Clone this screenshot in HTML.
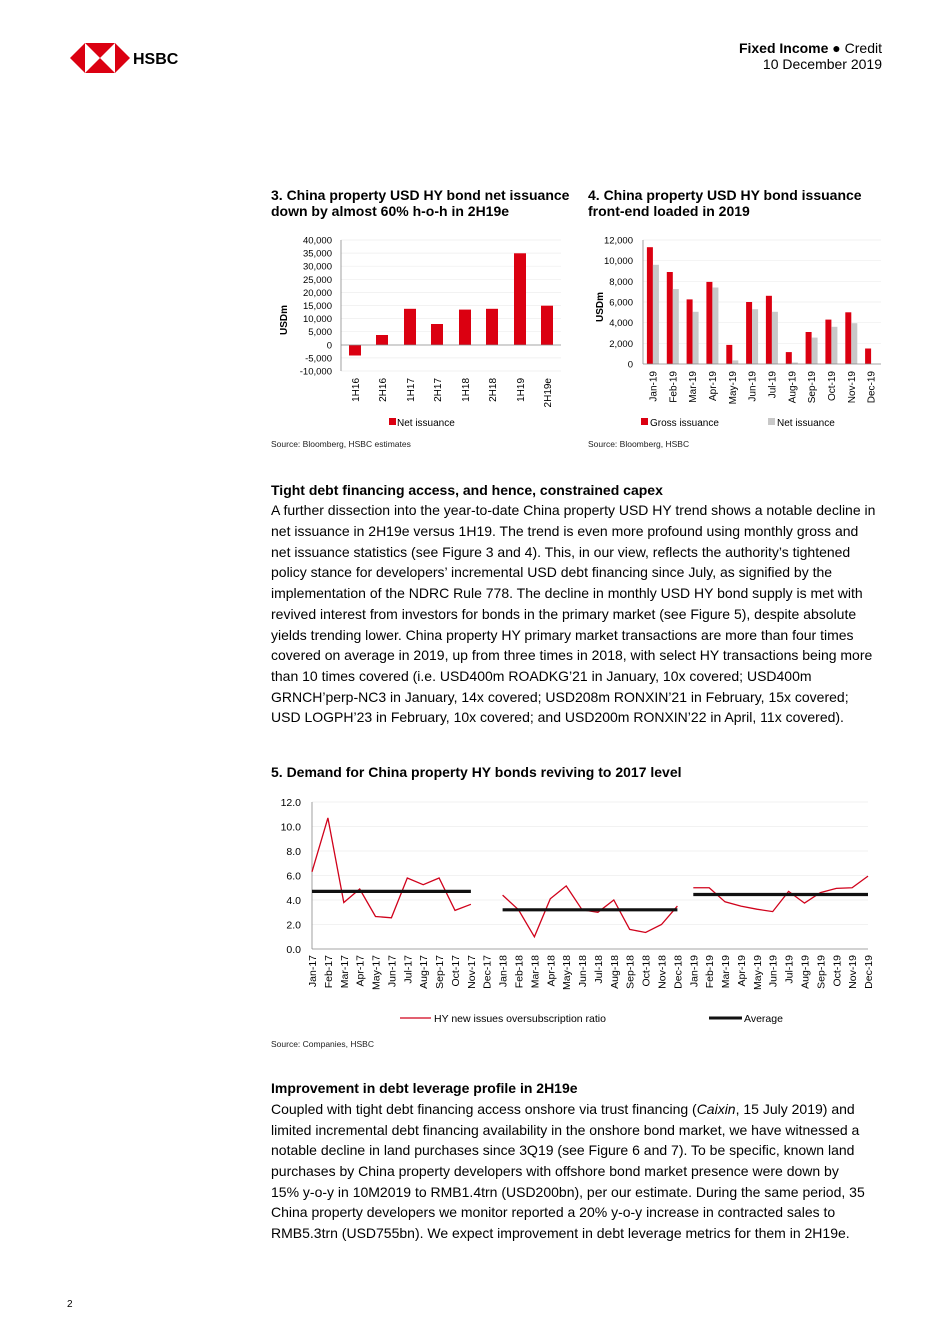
<!DOCTYPE html>
<html><head><meta charset="utf-8"><style>
html,body{margin:0;padding:0;background:#fff}
svg{display:block;font-family:"Liberation Sans",Arial,sans-serif}
</style></head><body>
<svg width="950" height="1344" viewBox="0 0 950 1344" xmlns="http://www.w3.org/2000/svg">
<!-- logo -->
<polygon points="70,58 85,43 85,73" fill="#db0011"/>
<polygon points="130,58 115,43 115,73" fill="#db0011"/>
<polygon points="85,43 115,43 100,58" fill="#db0011"/>
<polygon points="85,73 115,73 100,58" fill="#db0011"/>
<text x="133" y="64" font-size="16" font-weight="bold" fill="#000">HSBC</text>
<text x="882" y="53" font-size="14" text-anchor="end"><tspan font-weight="bold">Fixed Income</tspan> ● Credit</text>
<text x="882" y="69" font-size="14" text-anchor="end">10 December 2019</text>

<!-- chart 3 -->
<text x="271" y="200" font-size="14" font-weight="bold">3. China property USD HY bond net issuance</text>
<text x="271" y="216" font-size="14" font-weight="bold">down by almost 60% h-o-h in 2H19e</text>
<g stroke="#eee" stroke-width="0.7">
<line x1="341" y1="240" x2="561" y2="240"/><line x1="341" y1="253.1" x2="561" y2="253.1"/><line x1="341" y1="266.2" x2="561" y2="266.2"/><line x1="341" y1="279.3" x2="561" y2="279.3"/><line x1="341" y1="292.4" x2="561" y2="292.4"/><line x1="341" y1="305.5" x2="561" y2="305.5"/><line x1="341" y1="318.6" x2="561" y2="318.6"/><line x1="341" y1="331.7" x2="561" y2="331.7"/><line x1="341" y1="357.9" x2="561" y2="357.9"/><line x1="341" y1="371" x2="561" y2="371"/>
</g>
<g fill="#db0011">
<rect x="349" y="345" width="12" height="10.5"/>
<rect x="376" y="335" width="12" height="10"/>
<rect x="404" y="308.8" width="12" height="36.2"/>
<rect x="431" y="324" width="12" height="21"/>
<rect x="459" y="309.6" width="12" height="35.4"/>
<rect x="486" y="308.8" width="12" height="36.2"/>
<rect x="514" y="253.3" width="12" height="91.7"/>
<rect x="541" y="305.7" width="12" height="39.3"/>
</g>
<g stroke="#888" stroke-width="0.8"><line x1="341" y1="240" x2="341" y2="371"/><line x1="341" y1="345" x2="561" y2="345"/></g>
<g font-size="9.5" text-anchor="end">
<text x="332" y="243.5">40,000</text><text x="332" y="256.6">35,000</text><text x="332" y="269.7">30,000</text><text x="332" y="282.8">25,000</text><text x="332" y="295.9">20,000</text><text x="332" y="309">15,000</text><text x="332" y="322.1">10,000</text><text x="332" y="335.2">5,000</text><text x="332" y="348.3">0</text><text x="332" y="361.4">-5,000</text><text x="332" y="374.5">-10,000</text>
</g>
<text transform="translate(287,320) rotate(-90)" font-size="10" font-weight="bold" text-anchor="middle">USDm</text>
<g font-size="10" text-anchor="end">
<text transform="translate(359,378) rotate(-90)">1H16</text><text transform="translate(386,378) rotate(-90)">2H16</text><text transform="translate(414,378) rotate(-90)">1H17</text><text transform="translate(441,378) rotate(-90)">2H17</text><text transform="translate(469,378) rotate(-90)">1H18</text><text transform="translate(496,378) rotate(-90)">2H18</text><text transform="translate(524,378) rotate(-90)">1H19</text><text transform="translate(551,378) rotate(-90)">2H19e</text>
</g>
<rect x="389" y="418" width="7" height="7" fill="#db0011"/>
<text x="397" y="426" font-size="10">Net issuance</text>
<text x="271" y="447" font-size="8.5" fill="#222">Source: Bloomberg, HSBC estimates</text>

<!-- chart 4 -->
<text x="588" y="200" font-size="14" font-weight="bold">4. China property USD HY bond issuance</text>
<text x="588" y="216" font-size="14" font-weight="bold">front-end loaded in 2019</text>
<g stroke="#eee" stroke-width="0.7">
<line x1="643" y1="240" x2="881" y2="240"/><line x1="643" y1="260.7" x2="881" y2="260.7"/><line x1="643" y1="281.3" x2="881" y2="281.3"/><line x1="643" y1="302" x2="881" y2="302"/><line x1="643" y1="322.7" x2="881" y2="322.7"/><line x1="643" y1="343.3" x2="881" y2="343.3"/>
</g>
<g fill="#db0011">
<rect x="646.9" y="247.2" width="6" height="116.8"/><rect x="666.8" y="272" width="6" height="92"/><rect x="686.6" y="299.4" width="6" height="64.6"/><rect x="706.4" y="281.9" width="6" height="82.1"/><rect x="726.3" y="344.9" width="6" height="19.1"/><rect x="746.1" y="302" width="6" height="62"/><rect x="765.9" y="295.8" width="6" height="68.2"/><rect x="785.8" y="352.1" width="6" height="11.9"/><rect x="805.6" y="332" width="6" height="32"/><rect x="825.4" y="319.6" width="6" height="44.4"/><rect x="845.3" y="312.3" width="6" height="51.7"/><rect x="865.1" y="348.5" width="6" height="15.5"/>
</g>
<g fill="#c8c8c8">
<rect x="652.9" y="264.8" width="6" height="99.2"/><rect x="672.8" y="289.1" width="6" height="74.9"/><rect x="692.6" y="311.8" width="6" height="52.2"/><rect x="712.4" y="287.5" width="6" height="76.5"/><rect x="732.3" y="360.4" width="6" height="3.6"/><rect x="752.1" y="309.2" width="6" height="54.8"/><rect x="771.9" y="311.8" width="6" height="52.2"/><rect x="791.8" y="362.5" width="6" height="1.5"/><rect x="811.6" y="337.6" width="6" height="26.4"/><rect x="831.4" y="326.8" width="6" height="37.2"/><rect x="851.3" y="323.2" width="6" height="40.8"/>
</g>
<g stroke="#888" stroke-width="0.8"><line x1="643" y1="240" x2="643" y2="364"/><line x1="643" y1="364" x2="881" y2="364"/></g>
<g font-size="9.5" text-anchor="end">
<text x="633" y="243.5">12,000</text><text x="633" y="264.2">10,000</text><text x="633" y="284.8">8,000</text><text x="633" y="305.5">6,000</text><text x="633" y="326.2">4,000</text><text x="633" y="346.8">2,000</text><text x="633" y="367.5">0</text>
</g>
<text transform="translate(603,307) rotate(-90)" font-size="10" font-weight="bold" text-anchor="middle">USDm</text>
<g font-size="10" text-anchor="end">
<text transform="translate(656.5,371) rotate(-90)">Jan-19</text><text transform="translate(676.3,371) rotate(-90)">Feb-19</text><text transform="translate(696.1,371) rotate(-90)">Mar-19</text><text transform="translate(716,371) rotate(-90)">Apr-19</text><text transform="translate(735.8,371) rotate(-90)">May-19</text><text transform="translate(755.6,371) rotate(-90)">Jun-19</text><text transform="translate(775.5,371) rotate(-90)">Jul-19</text><text transform="translate(795.3,371) rotate(-90)">Aug-19</text><text transform="translate(815.1,371) rotate(-90)">Sep-19</text><text transform="translate(835,371) rotate(-90)">Oct-19</text><text transform="translate(854.8,371) rotate(-90)">Nov-19</text><text transform="translate(874.6,371) rotate(-90)">Dec-19</text>
</g>
<rect x="641" y="418" width="7" height="7" fill="#db0011"/>
<text x="650" y="426" font-size="10">Gross issuance</text>
<rect x="768" y="418" width="7" height="7" fill="#c8c8c8"/>
<text x="777" y="426" font-size="10">Net issuance</text>
<text x="588" y="447" font-size="8.5" fill="#222">Source: Bloomberg, HSBC</text>

<!-- text 1 -->
<g font-size="14">
<text x="271" y="495" font-weight="bold">Tight debt financing access, and hence, constrained capex</text>
<text x="271" y="515">A further dissection into the year-to-date China property USD HY trend shows a notable decline in</text>
<text x="271" y="536">net issuance in 2H19e versus 1H19. The trend is even more profound using monthly gross and</text>
<text x="271" y="557">net issuance statistics (see Figure 3 and 4). This, in our view, reflects the authority’s tightened</text>
<text x="271" y="577">policy stance for developers’ incremental USD debt financing since July, as signified by the</text>
<text x="271" y="598">implementation of the NDRC Rule 778. The decline in monthly USD HY bond supply is met with</text>
<text x="271" y="619">revived interest from investors for bonds in the primary market (see Figure 5), despite absolute</text>
<text x="271" y="640">yields trending lower. China property HY primary market transactions are more than four times</text>
<text x="271" y="660">covered on average in 2019, up from three times in 2018, with select HY transactions being more</text>
<text x="271" y="681">than 10 times covered (i.e. USD400m ROADKG’21 in January, 10x covered; USD400m</text>
<text x="271" y="702">GRNCH’perp-NC3 in January, 14x covered; USD208m RONXIN’21 in February, 15x covered;</text>
<text x="271" y="722">USD LOGPH’23 in February, 10x covered; and USD200m RONXIN’22 in April, 11x covered).</text>
<text x="271" y="777" font-weight="bold">5. Demand for China property HY bonds reviving to 2017 level</text>
</g>

<!-- chart 5 -->
<g stroke="#eee" stroke-width="0.8">
<line x1="312" y1="802" x2="868" y2="802"/><line x1="312" y1="826.5" x2="868" y2="826.5"/><line x1="312" y1="851" x2="868" y2="851"/><line x1="312" y1="875.5" x2="868" y2="875.5"/><line x1="312" y1="900" x2="868" y2="900"/><line x1="312" y1="924.5" x2="868" y2="924.5"/>
</g>
<g stroke="#888" stroke-width="0.8"><line x1="312" y1="802" x2="312" y2="949"/><line x1="312" y1="949" x2="868" y2="949"/></g>
<g font-size="10.5" text-anchor="end">
<text x="301" y="806">12.0</text><text x="301" y="830.5">10.0</text><text x="301" y="855">8.0</text><text x="301" y="879.5">6.0</text><text x="301" y="904">4.0</text><text x="301" y="928.5">2.0</text><text x="301" y="953">0.0</text>
</g>
<g fill="none" stroke="#d0021b" stroke-width="1.3">
<polyline points="312,871.8 327.9,817.9 343.8,902.5 359.7,889 375.5,916.5 391.4,917.8 407.3,878 423.2,884.7 439.1,878 455,910.4 470.9,904.3"/>
<polyline points="502.6,895.1 518.5,909.8 534.4,936.8 550.3,898.8 566.2,885.9 582.1,909.8 597.9,912.3 613.8,900 629.7,929.4 645.6,932.5 661.5,924.5 677.4,906.1"/>
<polyline points="693.3,887.75 709.2,887.75 725,901.8 740.9,906.1 756.8,909.2 772.7,911.6 788.6,891.4 804.5,903.1 820.4,892.6 836.3,888.4 852.1,887.75 868,876.1"/>
</g>
<g stroke="#111" stroke-width="3.2">
<line x1="312" y1="891.4" x2="470.9" y2="891.4"/>
<line x1="502.6" y1="909.8" x2="677.4" y2="909.8"/>
<line x1="693.3" y1="894.5" x2="868" y2="894.5"/>
</g>
<g font-size="10.5" text-anchor="end">
<text transform="translate(316,955) rotate(-90)">Jan-17</text><text transform="translate(331.9,955) rotate(-90)">Feb-17</text><text transform="translate(347.8,955) rotate(-90)">Mar-17</text><text transform="translate(363.7,955) rotate(-90)">Apr-17</text><text transform="translate(379.5,955) rotate(-90)">May-17</text><text transform="translate(395.4,955) rotate(-90)">Jun-17</text><text transform="translate(411.3,955) rotate(-90)">Jul-17</text><text transform="translate(427.2,955) rotate(-90)">Aug-17</text><text transform="translate(443.1,955) rotate(-90)">Sep-17</text><text transform="translate(459,955) rotate(-90)">Oct-17</text><text transform="translate(474.9,955) rotate(-90)">Nov-17</text><text transform="translate(490.7,955) rotate(-90)">Dec-17</text>
<text transform="translate(506.6,955) rotate(-90)">Jan-18</text><text transform="translate(522.5,955) rotate(-90)">Feb-18</text><text transform="translate(538.4,955) rotate(-90)">Mar-18</text><text transform="translate(554.3,955) rotate(-90)">Apr-18</text><text transform="translate(570.2,955) rotate(-90)">May-18</text><text transform="translate(586.1,955) rotate(-90)">Jun-18</text><text transform="translate(601.9,955) rotate(-90)">Jul-18</text><text transform="translate(617.8,955) rotate(-90)">Aug-18</text><text transform="translate(633.7,955) rotate(-90)">Sep-18</text><text transform="translate(649.6,955) rotate(-90)">Oct-18</text><text transform="translate(665.5,955) rotate(-90)">Nov-18</text><text transform="translate(681.4,955) rotate(-90)">Dec-18</text>
<text transform="translate(697.3,955) rotate(-90)">Jan-19</text><text transform="translate(713.2,955) rotate(-90)">Feb-19</text><text transform="translate(729,955) rotate(-90)">Mar-19</text><text transform="translate(744.9,955) rotate(-90)">Apr-19</text><text transform="translate(760.8,955) rotate(-90)">May-19</text><text transform="translate(776.7,955) rotate(-90)">Jun-19</text><text transform="translate(792.6,955) rotate(-90)">Jul-19</text><text transform="translate(808.5,955) rotate(-90)">Aug-19</text><text transform="translate(824.4,955) rotate(-90)">Sep-19</text><text transform="translate(840.3,955) rotate(-90)">Oct-19</text><text transform="translate(856.1,955) rotate(-90)">Nov-19</text><text transform="translate(872,955) rotate(-90)">Dec-19</text>
</g>
<line x1="400" y1="1018" x2="431" y2="1018" stroke="#d0021b" stroke-width="1.3"/>
<text x="434" y="1022" font-size="10.5">HY new issues oversubscription ratio</text>
<line x1="709" y1="1018" x2="742" y2="1018" stroke="#111" stroke-width="3"/>
<text x="744" y="1022" font-size="10.5">Average</text>
<text x="271" y="1047" font-size="8.5" fill="#222">Source: Companies, HSBC</text>

<!-- text 2 -->
<g font-size="14">
<text x="271" y="1093" font-weight="bold">Improvement in debt leverage profile in 2H19e</text>
<text x="271" y="1114">Coupled with tight debt financing access onshore via trust financing (<tspan font-style="italic">Caixin</tspan>, 15 July 2019) and</text>
<text x="271" y="1135">limited incremental debt financing availability in the onshore bond market, we have witnessed a</text>
<text x="271" y="1155">notable decline in land purchases since 3Q19 (see Figure 6 and 7). To be specific, known land</text>
<text x="271" y="1176">purchases by China property developers with offshore bond market presence were down by</text>
<text x="271" y="1197">15% y-o-y in 10M2019 to RMB1.4trn (USD200bn), per our estimate. During the same period, 35</text>
<text x="271" y="1217">China property developers we monitor reported a 20% y-o-y increase in contracted sales to</text>
<text x="271" y="1238">RMB5.3trn (USD755bn). We expect improvement in debt leverage metrics for them in 2H19e.</text>
</g>
<text x="67" y="1307" font-size="10">2</text>
</svg>
</body></html>
